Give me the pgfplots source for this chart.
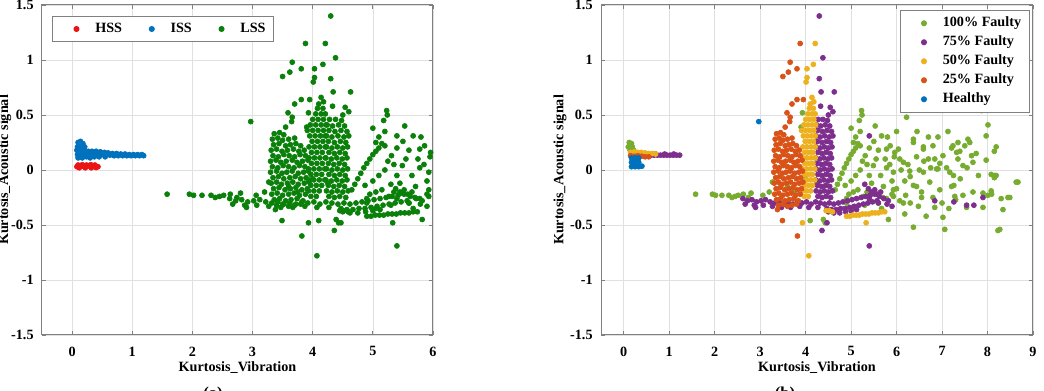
\documentclass[border=0pt]{standalone}
\usepackage{fontspec}
\setmainfont{Liberation Serif}
\usepackage{pgfplots}
\pgfplotsset{compat=1.18}

\definecolor{hss}{RGB}{235,20,20}
\definecolor{iss}{RGB}{0,114,189}
\definecolor{lss}{RGB}{10,128,10}
\definecolor{fa}{RGB}{119,172,48}
\definecolor{fb}{RGB}{126,47,142}
\definecolor{fc}{RGB}{237,177,32}
\definecolor{fd}{RGB}{217,83,25}
\definecolor{fe}{RGB}{0,114,189}

\pgfplotsset{
  kstyle/.style={
    scale only axis, height=198pt,
    xmin=-0.5, ymin=-1.5, ymax=1.5,
    ytick={-1.5,-1,-0.5,0,0.5,1,1.5},
    grid=major, grid style={black!12, line width=0.4pt},
    axis line style={black!50, line width=0.6pt},
    tick style={black!50, line width=0.5pt},
    major tick length=2.5pt,
    tick label style={font=\fontsize{8.5}{10}\selectfont\bfseries},
    label style={font=\fontsize{8.5}{10}\selectfont\bfseries},
    xlabel style={at={(axis description cs:0.5,0)}, anchor=center, yshift=-19.8pt},
    ylabel style={at={(axis description cs:-0.095,0.5)}, anchor=center},
    xticklabel style={yshift=-3.5pt},
    yticklabel style={xshift=-1.5pt},
    legend cell align=left,
    legend image code/.code={%
      \path (0pt,0pt) (20pt,0pt);
      \draw[##1, only marks, mark repeat=2, mark phase=2] plot coordinates {(0pt,0pt) (11pt,0pt) (20pt,0pt)};},
    legend style={draw=black!50, line width=0.6pt, font=\fontsize{8.5}{10.3}\selectfont\bfseries, fill=white},
    xlabel={Kurtosis\_Vibration},
    ylabel={Kurtosis\_Acoustic signal},
    /pgf/number format/assume math mode=true,
  },
  dots/.style={only marks, mark=*, mark size=1.5pt, color=#1, mark options={fill=#1, draw=#1}},
}

\begin{document}
\begin{tikzpicture}
\useasboundingbox (0,0) rectangle (626.4pt,234.6pt);

\begin{axis}[kstyle, at={(25.2pt,33.6pt)}, anchor=south west,
  width=234.6pt, xmax=6, xtick={0,1,2,3,4,5,6},
  legend columns=3,
  legend style={at={(0.026,0.967)}, anchor=north west,
    /tikz/every even column/.append style={column sep=4.5pt}},
  ]
% HSS
\addplot[dots=hss] coordinates {
(0.08,0.030) (0.14,0.035) (0.20,0.030) (0.26,0.035) (0.32,0.030) (0.38,0.035) (0.43,0.030)
(0.10,0.045) (0.17,0.048) (0.24,0.045) (0.31,0.048) (0.38,0.045)
(0.12,0.020) (0.22,0.020) (0.32,0.020) (0.40,0.022)
};
\addlegendentry{HSS}
% ISS
\addplot[dots=iss] coordinates {
(0.10,0.25) (0.14,0.26) (0.18,0.24) (0.09,0.21) (0.15,0.22) (0.21,0.21) (0.08,0.18) (0.14,0.18)
(0.20,0.18) (0.27,0.17) (0.09,0.14) (0.15,0.14) (0.21,0.15) (0.10,0.11) (0.17,0.11) (0.24,0.12)
(0.33,0.17) (0.40,0.17) (0.47,0.165) (0.54,0.16) (0.30,0.11) (0.37,0.12) (0.28,0.14) (0.35,0.14)
(0.42,0.14) (0.49,0.14) (0.56,0.135) (0.63,0.135) (0.70,0.13) (0.77,0.13) (0.84,0.13) (0.91,0.13)
(0.98,0.13) (1.05,0.13) (1.12,0.13) (1.19,0.13) (0.60,0.155) (0.67,0.15) (0.74,0.15) (0.81,0.145)
(0.88,0.145) (0.95,0.14) (1.02,0.14) (1.09,0.14) (1.16,0.14) (0.45,0.12) (0.55,0.12)
};
\addlegendentry{ISS}
% LSS (all faulty-condition points)
\addplot[dots=lss] coordinates {
(1.58,-0.22) (1.95,-0.22) (2.02,-0.23) (2.16,-0.23) (2.31,-0.23) (2.38,-0.25) (2.45,-0.24) (2.52,-0.23)
(2.63,-0.22) (2.74,-0.25) (2.80,-0.21) (3.06,-0.23) (3.20,-0.20) (3.27,-0.11) (3.93,0.52) (3.90,0.39)
(3.60,-0.15) (3.75,-0.20) (4.00,-0.08) (4.10,-0.46) (4.39,-0.45) (4.43,-0.48) (4.25,-0.12) (4.65,-0.18)
(4.70,-0.13) (4.75,-0.08) (4.80,-0.03) (4.85,0.02) (4.90,0.06) (4.95,0.10) (5.00,0.14) (5.05,0.17)
(5.10,0.20) (5.15,0.24) (5.23,0.54) (5.24,0.50) (5.18,0.45) (5.53,0.40) (6.22,0.48) (7.02,0.58)
(5.67,0.31) (5.05,0.25) (5.20,0.22) (5.86,0.22) (5.78,0.02) (5.49,0.04) (5.31,0.13) (5.93,-0.02)
(5.93,-0.18) (5.71,-0.15) (5.49,-0.21) (5.27,-0.24) (5.05,-0.20) (4.87,-0.14) (4.90,-0.26)
(5.82,-0.45) (5.67,-0.35) (5.90,-0.22) (5.78,0.19) (5.96,0.16) (5.78,-0.26) (5.93,-0.24)
(4.90,-0.30) (5.00,-0.10) (5.10,-0.05) (5.20,0.00) (5.25,0.08) (5.35,0.05)
(5.40,-0.05) (5.45,-0.12) (5.55,0.10) (5.60,0.18) (5.65,-0.05) (5.75,0.10) (5.85,0.05) (5.95,0.12)
(5.10,0.30) (5.20,0.35) (5.00,0.38) (5.40,0.20) (5.50,0.26) (5.80,0.30) (5.30,-0.32)
(5.60,-0.30) (5.05,-0.35) (4.95,-0.22) (5.15,-0.18) (5.35,-0.20) (5.70,-0.25) (5.90,-0.10)
(4.30,1.40) (4.38,1.02) (4.30,0.83) (4.34,0.71) (4.63,0.71) (4.33,0.58) (4.54,0.57) (4.60,0.53)
(4.50,0.50) (5.40,0.31) (5.30,-0.13) (5.40,-0.69) (4.36,-0.55) (4.47,-0.48) (2.90,-0.34) (5.79,-0.31)
(5.90,-0.33)
(4.28,0.46) (4.38,0.46) (4.48,0.45) (4.24,0.41) (4.33,0.40) (4.43,0.41) (4.53,0.40)
(4.27,0.36) (4.37,0.35) (4.47,0.36) (4.57,0.35) (4.23,0.31) (4.32,0.30) (4.42,0.31) (4.52,0.30) (4.60,0.31)
(4.26,0.26) (4.36,0.25) (4.46,0.26) (4.55,0.25) (4.23,0.21) (4.32,0.20) (4.41,0.21) (4.50,0.20) (4.58,0.21)
(4.27,0.16) (4.36,0.15) (4.45,0.16) (4.54,0.15) (4.22,0.11) (4.31,0.10) (4.40,0.11) (4.49,0.10) (4.57,0.11)
(4.26,0.06) (4.35,0.05) (4.44,0.06) (4.53,0.05) (4.23,0.01) (4.32,0.00) (4.41,0.01) (4.50,0.00) (4.58,0.01)
(4.27,-0.04) (4.36,-0.05) (4.45,-0.04) (4.54,-0.05) (4.22,-0.09) (4.31,-0.10) (4.40,-0.09) (4.49,-0.10) (4.57,-0.09)
(4.26,-0.14) (4.35,-0.15) (4.44,-0.14) (4.53,-0.15) (4.23,-0.19) (4.32,-0.20) (4.41,-0.19) (4.50,-0.20) (4.59,-0.19)
(4.27,-0.24) (4.36,-0.25) (4.45,-0.24) (4.55,-0.25)
(2.62,-0.26) (2.72,-0.28) (2.82,-0.27) (2.92,-0.29) (3.02,-0.28) (3.12,-0.27) (3.22,-0.29) (3.32,-0.30)
(3.42,-0.29) (3.52,-0.31) (3.62,-0.30) (3.72,-0.31) (3.82,-0.29) (3.92,-0.30) (4.02,-0.29) (4.12,-0.31)
(4.22,-0.29) (4.32,-0.30) (4.42,-0.31) (4.52,-0.30) (4.62,-0.31) (4.72,-0.30) (4.82,-0.29) (4.92,-0.28)
(5.02,-0.27) (5.12,-0.26) (5.22,-0.25) (5.32,-0.24) (5.42,-0.23) (5.52,-0.22) (5.62,-0.24) (5.72,-0.26) (5.82,-0.28)
(2.67,-0.31) (2.87,-0.32) (3.07,-0.32) (3.27,-0.33) (3.47,-0.34) (3.67,-0.34) (3.87,-0.33) (4.07,-0.34)
(4.27,-0.34) (4.47,-0.35) (4.57,-0.36) (4.67,-0.36) (4.77,-0.35) (4.87,-0.35) (4.97,-0.34) (5.07,-0.33)
(5.17,-0.32) (5.27,-0.31) (5.37,-0.30) (5.47,-0.29) (5.57,-0.28)
(4.50,-0.38) (4.62,-0.39) (4.75,-0.39) (4.88,-0.38) (5.00,-0.37) (5.12,-0.36)
(5.38,-0.17) (5.45,-0.20) (5.52,-0.18) (5.58,-0.22) (5.65,-0.20) (5.40,-0.26) (5.60,-0.30)
(4.21,1.15) (4.17,0.96) (4.03,0.92) (4.03,0.84) (4.01,0.80) (4.14,0.66) (3.93,-0.48) (4.07,-0.78)
(5.33,-0.48) (3.91,0.36) (4.10,0.60) (4.18,0.62) (4.08,0.56) (4.17,0.56) (4.05,0.51) (4.14,0.51) (4.21,0.51)
(4.00,0.46) (4.09,0.46) (4.18,0.46) (3.96,0.41) (4.05,0.41) (4.14,0.41) (4.22,0.41) (4.00,0.36) (4.09,0.36) (4.18,0.36)
(3.95,0.31) (4.04,0.31) (4.13,0.31) (4.21,0.31) (3.99,0.26) (4.08,0.26) (4.17,0.26) (3.94,0.21) (4.03,0.21)
(4.12,0.21) (4.21,0.21) (3.98,0.16) (4.07,0.16) (4.16,0.16) (3.94,0.11) (4.03,0.11) (4.12,0.11) (4.21,0.11)
(3.98,0.06) (4.07,0.06) (4.16,0.06) (3.93,0.01) (4.02,0.01) (4.11,0.01) (4.20,0.01) (3.97,-0.04) (4.06,-0.04)
(4.15,-0.04) (3.93,-0.09) (4.02,-0.09) (4.11,-0.09) (4.20,-0.09) (3.97,-0.14) (4.06,-0.14) (4.15,-0.14)
(3.93,-0.19) (4.02,-0.19) (4.11,-0.19) (3.97,-0.24) (4.06,-0.24)
(4.90,-0.42) (4.97,-0.42) (5.04,-0.41) (5.11,-0.41) (5.18,-0.41) (5.25,-0.40) (5.32,-0.40) (5.39,-0.40)
(5.46,-0.39) (5.53,-0.39) (5.60,-0.39) (5.67,-0.38) (5.74,-0.38) (4.45,-0.37) (4.52,-0.37) (4.59,-0.38)
(3.88,1.15) (3.66,0.98) (3.62,0.89) (3.81,0.92) (3.50,0.85) (3.70,0.60) (3.81,0.64) (3.95,0.64)
(3.59,0.52) (3.66,0.48) (3.55,0.39) (3.65,0.44) (3.49,-0.46) (3.82,-0.60) (3.38,-0.36)
(3.36,0.33) (3.45,0.34) (3.52,0.32) (3.33,0.28) (3.42,0.29) (3.50,0.27) (3.60,0.28) (3.70,0.29)
(3.35,0.23) (3.44,0.24) (3.55,0.22) (3.63,0.23) (3.72,0.24) (3.80,0.22)
(3.31,0.18) (3.40,0.19) (3.49,0.17) (3.58,0.18) (3.68,0.19) (3.77,0.17) (3.86,0.18)
(3.34,0.13) (3.43,0.12) (3.52,0.14) (3.61,0.13) (3.70,0.12) (3.79,0.14) (3.88,0.13)
(3.30,0.08) (3.39,0.09) (3.47,0.07) (3.56,0.08) (3.66,0.09) (3.74,0.07) (3.83,0.08) (3.92,0.09)
(3.33,0.03) (3.42,0.02) (3.51,0.04) (3.60,0.03) (3.69,0.02) (3.78,0.04) (3.87,0.03)
(3.30,-0.02) (3.40,-0.01) (3.49,-0.03) (3.57,-0.02) (3.66,-0.01) (3.76,-0.03) (3.85,-0.02) (3.93,-0.01)
(3.34,-0.07) (3.43,-0.06) (3.52,-0.08) (3.62,-0.07) (3.71,-0.06) (3.80,-0.08) (3.89,-0.07)
(3.31,-0.12) (3.40,-0.11) (3.48,-0.13) (3.58,-0.12) (3.67,-0.11) (3.76,-0.13) (3.86,-0.12) (3.94,-0.11)
(3.35,-0.17) (3.44,-0.16) (3.54,-0.18) (3.63,-0.17) (3.72,-0.16) (3.82,-0.18) (3.91,-0.17)
(3.32,-0.22) (3.41,-0.21) (3.50,-0.23) (3.60,-0.22) (3.69,-0.21) (3.78,-0.23) (3.88,-0.22)
(3.36,-0.27) (3.45,-0.26) (3.55,-0.28) (3.64,-0.27) (3.74,-0.26) (3.84,-0.28)
(3.40,-0.32) (3.50,-0.31) (3.60,-0.33) (3.70,-0.32) (3.80,-0.31)
(2.97,0.44)
};
\addlegendentry{LSS}
\end{axis}

\begin{axis}[kstyle, at={(360.6pt,33.6pt)}, anchor=south west,
  width=259.2pt, xmax=9, xtick={0,1,2,3,4,5,6,7,8,9},
  legend style={at={(0.993,0.985)}, anchor=north east},
  ]
% 100% Faulty
\addplot[dots=fa] coordinates {
(1.58,-0.22) (1.95,-0.22) (2.02,-0.23) (2.16,-0.23) (2.31,-0.23) (2.38,-0.25) (2.45,-0.24) (2.52,-0.23)
(2.63,-0.22) (2.74,-0.25) (2.80,-0.21) (3.06,-0.23) (3.20,-0.20) (3.27,-0.11) (3.93,0.52) (3.90,0.39)
(3.60,-0.15) (3.75,-0.20) (4.00,-0.08) (4.10,-0.46) (4.39,-0.45) (4.43,-0.48) (4.25,-0.12) (4.65,-0.18)
(4.70,-0.13) (4.75,-0.08) (4.80,-0.03) (4.85,0.02) (4.90,0.06) (4.95,0.10) (5.00,0.14) (5.05,0.17)
(5.10,0.20) (5.15,0.24) (5.23,0.54) (5.24,0.50) (5.18,0.45) (5.53,0.40) (6.22,0.48) (7.02,0.58)
(7.13,0.35) (7.87,0.54) (8.01,0.41) (7.97,0.31) (8.19,0.21) (8.15,0.17) (6.91,0.30) (5.67,0.31)
(5.05,0.25) (5.20,0.22) (5.86,0.22) (6.04,0.19) (6.37,0.25) (6.59,0.21) (6.80,0.22) (7.24,0.22)
(7.35,0.25) (7.57,0.28) (7.65,0.13) (7.32,0.16) (7.02,0.13) (6.70,0.10) (6.44,0.12) (6.15,0.07)
(5.78,0.02) (5.49,0.04) (5.31,0.13) (5.93,-0.02) (6.29,-0.01) (6.59,-0.02) (6.88,0.01) (7.17,-0.02)
(7.46,0.04) (7.68,0.07) (7.97,0.09) (8.08,-0.04) (8.15,-0.07) (8.19,-0.05) (8.67,-0.11) (8.49,-0.25)
(8.30,-0.26) (7.90,-0.21) (7.68,-0.20) (7.46,-0.23) (7.21,-0.15) (6.95,-0.18) (6.73,-0.11) (6.44,-0.15)
(6.18,-0.10) (5.93,-0.18) (5.71,-0.15) (5.49,-0.21) (5.27,-0.24) (5.05,-0.20) (4.87,-0.14) (4.90,-0.26)
(5.82,-0.45) (6.18,-0.40) (6.37,-0.52) (6.65,-0.42) (6.84,-0.34) (7.02,-0.43) (7.06,-0.54) (7.28,-0.24)
(7.54,-0.34) (7.90,-0.34) (8.09,-0.22) (8.34,-0.36) (8.27,-0.54) (6.55,-0.20) (6.20,-0.23) (5.67,-0.35)
(5.90,-0.22) (6.37,0.28) (6.59,0.19) (5.78,0.19) (5.96,0.16) (6.07,0.10) (6.84,0.10) (6.91,0.01)
(7.35,0.10) (7.39,0.17) (7.21,0.20) (7.61,0.25) (8.16,-0.05) (8.63,-0.11) (8.45,-0.25) (8.23,-0.55)
(6.48,-0.33) (7.30,-0.27) (7.26,-0.14) (6.37,-0.14) (6.00,-0.17) (5.78,-0.26) (8.01,-0.23) (8.08,-0.19)
(5.93,-0.24) (6.07,-0.28) (4.90,-0.30) (5.00,-0.10) (5.10,-0.05) (5.20,0.00) (5.25,0.08) (5.35,0.05)
(5.40,-0.05) (5.45,-0.12) (5.55,0.10) (5.60,0.18) (5.65,-0.05) (5.75,0.10) (5.85,0.05) (5.95,0.12)
(5.10,0.30) (5.20,0.35) (5.00,0.38) (5.40,0.20) (5.50,0.26) (5.80,0.30) (6.00,0.35) (5.30,-0.32)
(5.60,-0.30) (5.05,-0.35) (4.95,-0.22) (5.15,-0.18) (5.35,-0.20) (5.70,-0.25) (5.90,-0.10) (6.10,0.00)
(6.25,0.05) (6.30,-0.06) (6.50,0.00) (6.60,0.08) (6.75,0.02) (6.95,0.06) (7.10,0.02) (7.25,-0.05)
(7.40,-0.08) (7.55,0.02) (7.80,-0.05) (7.75,0.15) (7.50,0.22) (6.70,0.30) (6.45,0.35) (6.55,-0.25)
(6.80,-0.25) (7.00,-0.30) (7.15,-0.35) (6.30,-0.30) (6.15,-0.30)
(0.12,0.25) (0.17,0.24) (0.10,0.21) (0.19,0.21) (0.14,0.18) (0.22,0.18)
};
\addlegendentry{100\% Faulty}
% 75% Faulty
\addplot[dots=fb] coordinates {
(4.30,1.40) (4.38,1.02) (4.30,0.83) (4.34,0.71) (4.63,0.71) (4.33,0.58) (4.54,0.57) (4.60,0.53)
(4.50,0.50) (5.40,0.31) (5.30,-0.13) (5.40,-0.69) (4.36,-0.55) (4.47,-0.48) (2.90,-0.34) (5.79,-0.31)
(5.90,-0.33) (6.84,-0.28) (7.26,-0.29) (7.54,-0.32) (7.70,-0.32) (7.90,-0.25)
(4.28,0.46) (4.38,0.46) (4.48,0.45) (4.24,0.41) (4.33,0.40) (4.43,0.41) (4.53,0.40)
(4.27,0.36) (4.37,0.35) (4.47,0.36) (4.57,0.35) (4.23,0.31) (4.32,0.30) (4.42,0.31) (4.52,0.30) (4.60,0.31)
(4.26,0.26) (4.36,0.25) (4.46,0.26) (4.55,0.25) (4.23,0.21) (4.32,0.20) (4.41,0.21) (4.50,0.20) (4.58,0.21)
(4.27,0.16) (4.36,0.15) (4.45,0.16) (4.54,0.15) (4.22,0.11) (4.31,0.10) (4.40,0.11) (4.49,0.10) (4.57,0.11)
(4.26,0.06) (4.35,0.05) (4.44,0.06) (4.53,0.05) (4.23,0.01) (4.32,0.00) (4.41,0.01) (4.50,0.00) (4.58,0.01)
(4.27,-0.04) (4.36,-0.05) (4.45,-0.04) (4.54,-0.05) (4.22,-0.09) (4.31,-0.10) (4.40,-0.09) (4.49,-0.10) (4.57,-0.09)
(4.26,-0.14) (4.35,-0.15) (4.44,-0.14) (4.53,-0.15) (4.23,-0.19) (4.32,-0.20) (4.41,-0.19) (4.50,-0.20) (4.59,-0.19)
(4.27,-0.24) (4.36,-0.25) (4.45,-0.24) (4.55,-0.25)
(2.62,-0.26) (2.72,-0.28) (2.82,-0.27) (2.92,-0.29) (3.02,-0.28) (3.12,-0.27) (3.22,-0.29) (3.32,-0.30)
(3.42,-0.29) (3.52,-0.31) (3.62,-0.30) (3.72,-0.31) (3.82,-0.29) (3.92,-0.30) (4.02,-0.29) (4.12,-0.31)
(4.22,-0.29) (4.32,-0.30) (4.42,-0.31) (4.52,-0.30) (4.62,-0.31) (4.72,-0.30) (4.82,-0.29) (4.92,-0.28)
(5.02,-0.27) (5.12,-0.26) (5.22,-0.25) (5.32,-0.24) (5.42,-0.23) (5.52,-0.22) (5.62,-0.24) (5.72,-0.26) (5.82,-0.28)
(2.67,-0.31) (2.87,-0.32) (3.07,-0.32) (3.27,-0.33) (3.47,-0.34) (3.67,-0.34) (3.87,-0.33) (4.07,-0.34)
(4.27,-0.34) (4.47,-0.35) (4.57,-0.36) (4.67,-0.36) (4.77,-0.35) (4.87,-0.35) (4.97,-0.34) (5.07,-0.33)
(5.17,-0.32) (5.27,-0.31) (5.37,-0.30) (5.47,-0.29) (5.57,-0.28)
(4.50,-0.38) (4.62,-0.39) (4.75,-0.39) (4.88,-0.38) (5.00,-0.37) (5.12,-0.36)
(5.38,-0.17) (5.45,-0.20) (5.52,-0.18) (5.58,-0.22) (5.65,-0.20) (5.40,-0.26) (5.60,-0.30)
(0.25,0.135) (0.32,0.135) (0.39,0.135) (0.46,0.135) (0.53,0.135) (0.60,0.135) (0.67,0.135) (0.74,0.135)
(0.81,0.135) (0.88,0.135) (0.95,0.135) (1.02,0.135) (1.09,0.135) (1.16,0.135) (1.23,0.135)
(0.50,0.145) (0.70,0.145) (0.90,0.145) (1.10,0.145)
};
\addlegendentry{75\% Faulty}
% 50% Faulty
\addplot[dots=fc] coordinates {
(4.21,1.15) (4.17,0.96) (4.03,0.92) (4.03,0.84) (4.01,0.80) (4.14,0.66) (3.93,-0.48) (4.07,-0.78)
(5.33,-0.48) (3.91,0.36) (4.10,0.60) (4.18,0.62) (4.08,0.56) (4.17,0.56) (4.05,0.51) (4.14,0.51) (4.21,0.51)
(4.00,0.46) (4.09,0.46) (4.18,0.46) (3.96,0.41) (4.05,0.41) (4.14,0.41) (4.22,0.41) (4.00,0.36) (4.09,0.36) (4.18,0.36)
(3.95,0.31) (4.04,0.31) (4.13,0.31) (4.21,0.31) (3.99,0.26) (4.08,0.26) (4.17,0.26) (3.94,0.21) (4.03,0.21)
(4.12,0.21) (4.21,0.21) (3.98,0.16) (4.07,0.16) (4.16,0.16) (3.94,0.11) (4.03,0.11) (4.12,0.11) (4.21,0.11)
(3.98,0.06) (4.07,0.06) (4.16,0.06) (3.93,0.01) (4.02,0.01) (4.11,0.01) (4.20,0.01) (3.97,-0.04) (4.06,-0.04)
(4.15,-0.04) (3.93,-0.09) (4.02,-0.09) (4.11,-0.09) (4.20,-0.09) (3.97,-0.14) (4.06,-0.14) (4.15,-0.14)
(3.93,-0.19) (4.02,-0.19) (4.11,-0.19) (3.97,-0.24) (4.06,-0.24)
(4.90,-0.42) (4.97,-0.42) (5.04,-0.41) (5.11,-0.41) (5.18,-0.41) (5.25,-0.40) (5.32,-0.40) (5.39,-0.40)
(5.46,-0.39) (5.53,-0.39) (5.60,-0.39) (5.67,-0.38) (5.74,-0.38) (4.45,-0.37) (4.52,-0.37) (4.59,-0.38)
(0.15,0.16) (0.23,0.165) (0.31,0.16) (0.39,0.16) (0.47,0.155) (0.55,0.15) (0.63,0.15) (0.70,0.145)
(0.20,0.14) (0.35,0.14)
};
\addlegendentry{50\% Faulty}
% 25% Faulty
\addplot[dots=fd] coordinates {
(3.88,1.15) (3.66,0.98) (3.62,0.89) (3.81,0.92) (3.50,0.85) (3.70,0.60) (3.81,0.64) (3.95,0.64)
(3.59,0.52) (3.66,0.48) (3.55,0.39) (3.65,0.44) (3.49,-0.46) (3.82,-0.60) (3.38,-0.36)
(3.36,0.33) (3.45,0.34) (3.52,0.32) (3.33,0.28) (3.42,0.29) (3.50,0.27) (3.60,0.28) (3.70,0.29)
(3.35,0.23) (3.44,0.24) (3.55,0.22) (3.63,0.23) (3.72,0.24) (3.80,0.22)
(3.31,0.18) (3.40,0.19) (3.49,0.17) (3.58,0.18) (3.68,0.19) (3.77,0.17) (3.86,0.18)
(3.34,0.13) (3.43,0.12) (3.52,0.14) (3.61,0.13) (3.70,0.12) (3.79,0.14) (3.88,0.13)
(3.30,0.08) (3.39,0.09) (3.47,0.07) (3.56,0.08) (3.66,0.09) (3.74,0.07) (3.83,0.08) (3.92,0.09)
(3.33,0.03) (3.42,0.02) (3.51,0.04) (3.60,0.03) (3.69,0.02) (3.78,0.04) (3.87,0.03)
(3.30,-0.02) (3.40,-0.01) (3.49,-0.03) (3.57,-0.02) (3.66,-0.01) (3.76,-0.03) (3.85,-0.02) (3.93,-0.01)
(3.34,-0.07) (3.43,-0.06) (3.52,-0.08) (3.62,-0.07) (3.71,-0.06) (3.80,-0.08) (3.89,-0.07)
(3.31,-0.12) (3.40,-0.11) (3.48,-0.13) (3.58,-0.12) (3.67,-0.11) (3.76,-0.13) (3.86,-0.12) (3.94,-0.11)
(3.35,-0.17) (3.44,-0.16) (3.54,-0.18) (3.63,-0.17) (3.72,-0.16) (3.82,-0.18) (3.91,-0.17)
(3.32,-0.22) (3.41,-0.21) (3.50,-0.23) (3.60,-0.22) (3.69,-0.21) (3.78,-0.23) (3.88,-0.22)
(3.36,-0.27) (3.45,-0.26) (3.55,-0.28) (3.64,-0.27) (3.74,-0.26) (3.84,-0.28)
(3.40,-0.32) (3.50,-0.31) (3.60,-0.33) (3.70,-0.32) (3.80,-0.31)
(0.15,0.13) (0.23,0.125) (0.31,0.13) (0.39,0.125) (0.47,0.12) (0.55,0.12) (0.20,0.10)
};
\addlegendentry{25\% Faulty}
% Healthy
\addplot[dots=fe] coordinates {
(0.17,0.03) (0.25,0.03) (0.33,0.03) (0.40,0.035) (0.17,0.07) (0.25,0.07) (0.33,0.07)
(0.17,0.11) (0.25,0.11) (0.33,0.11) (0.22,0.05) (0.30,0.05) (0.20,0.09) (0.30,0.09)
(2.97,0.44)
};
\addlegendentry{Healthy}
\end{axis}

\node[anchor=north, inner sep=0pt, font=\fontsize{10}{12}\selectfont\bfseries] at (127.8pt,2.4pt) {(a)};
\node[anchor=north, inner sep=0pt, font=\fontsize{10}{12}\selectfont\bfseries] at (471pt,2.4pt) {(b)};
\end{tikzpicture}
\end{document}
